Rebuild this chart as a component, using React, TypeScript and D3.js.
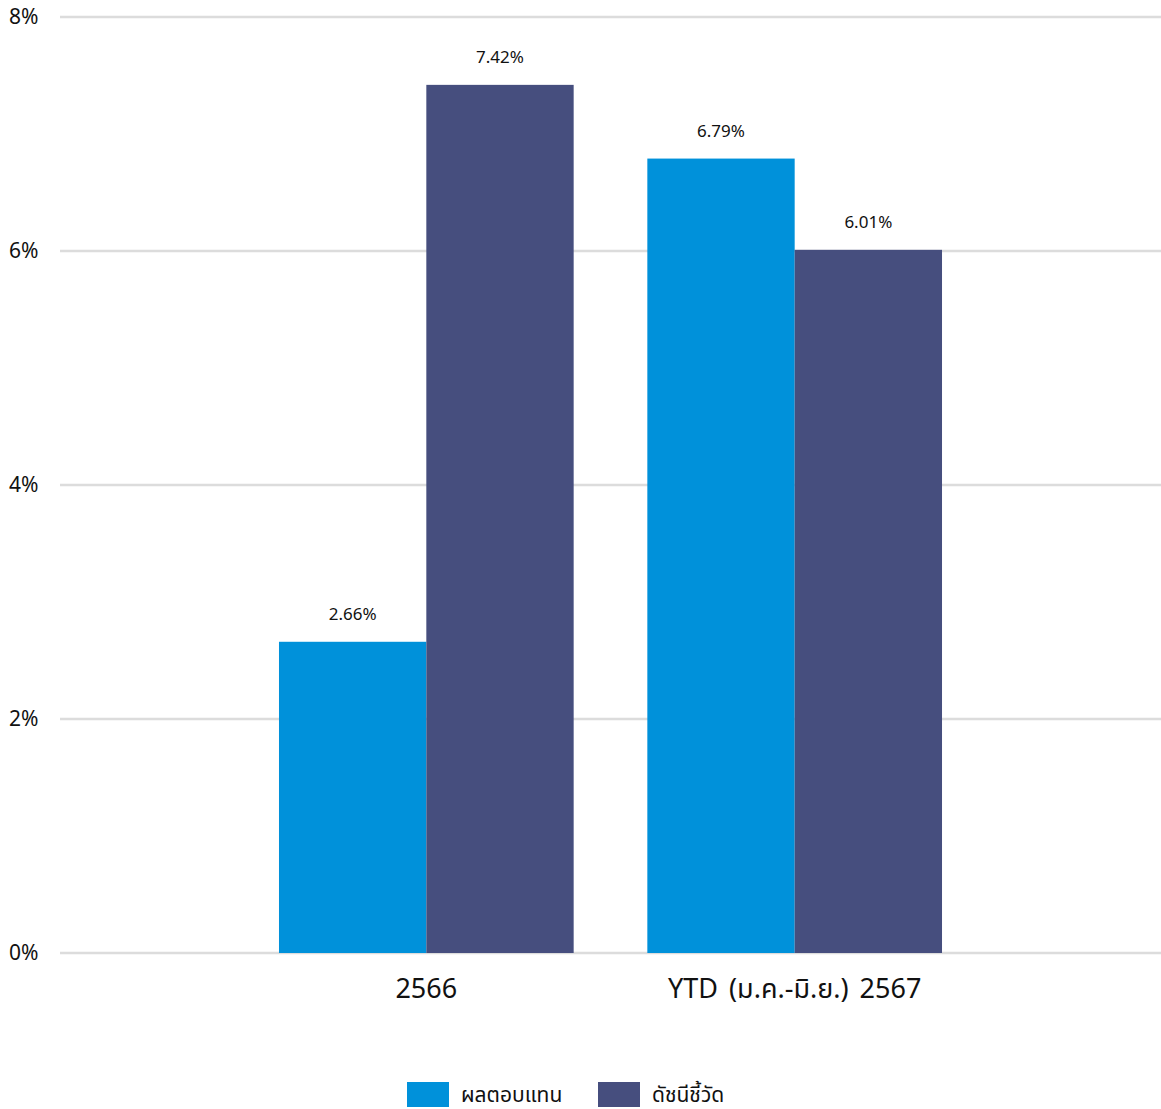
import React from "react";
import * as d3 from "d3";

const categories = ["2566", "YTD (ม.ค.-มิ.ย.) 2567"];
const seriesNames = ["ผลตอบแทน", "ดัชนีชี้วัด"];
const fundReturn = [2.66, 6.79];
const benchmark = [7.42, 6.01];
const yTicks = [0, 2, 4, 6, 8];
const colors = ["#0091DA", "#464E7E"];

const W = 1161;
const H = 1109;
const FONT = "'Noto Sans', 'Noto Sans Thai', 'DejaVu Sans', sans-serif";

export default function App() {
  const x0 = 60, x1 = 1161;
  const y = d3.scaleLinear().domain([0, 8]).range([953, 17]);
  const xBand = d3.scaleBand<string>().domain(categories).range([x0, x1]).paddingInner(0.2).paddingOuter(0.5945);
  const xSub = d3.scaleBand<number>().domain([0, 1]).range([0, xBand.bandwidth()]);
  const series = [fundReturn, benchmark];

  return (
    <svg width={W} height={H} style={{ position: "absolute", left: 0, top: 0, display: "block" }}>
      {yTicks.map((t) => (
        <g key={t}>
          <line x1={x0} x2={x1} y1={y(t)} y2={y(t)} stroke="#dcdcdc" strokeWidth={2.5} />
          <text x={9} y={y(t)} dy="0.35em" fontSize={21} fontFamily={FONT} fill="#111">{t}%</text>
        </g>
      ))}
      {categories.map((c, i) => (
        <g key={c} transform={`translate(${xBand(c)},0)`}>
          {series.map((s, j) => (
            <g key={j}>
              <rect x={xSub(j)} y={y(s[i])} width={xSub.bandwidth()} height={y(0) - y(s[i])} fill={colors[j]} />
              <text x={(xSub(j) as number) + xSub.bandwidth() / 2} y={y(s[i]) - 22} textAnchor="middle" fontSize={17} fontFamily={FONT} fill="#111">
                {s[i].toFixed(2)}%
              </text>
            </g>
          ))}
          <text x={xBand.bandwidth() / 2} y={998} textAnchor="middle" fontSize={27} wordSpacing={4} fontFamily={FONT} fill="#111">{c}</text>
        </g>
      ))}
      {seriesNames.map((n, j) => {
        const lx = [407, 598][j];
        return (
          <g key={n}>
            <rect x={lx} y={1082} width={42} height={25} fill={colors[j]} />
            <text x={lx + 54} y={1095} dy="0.35em" fontSize={21} fontFamily={FONT} fill="#111">{n}</text>
          </g>
        );
      })}
    </svg>
  );
}
